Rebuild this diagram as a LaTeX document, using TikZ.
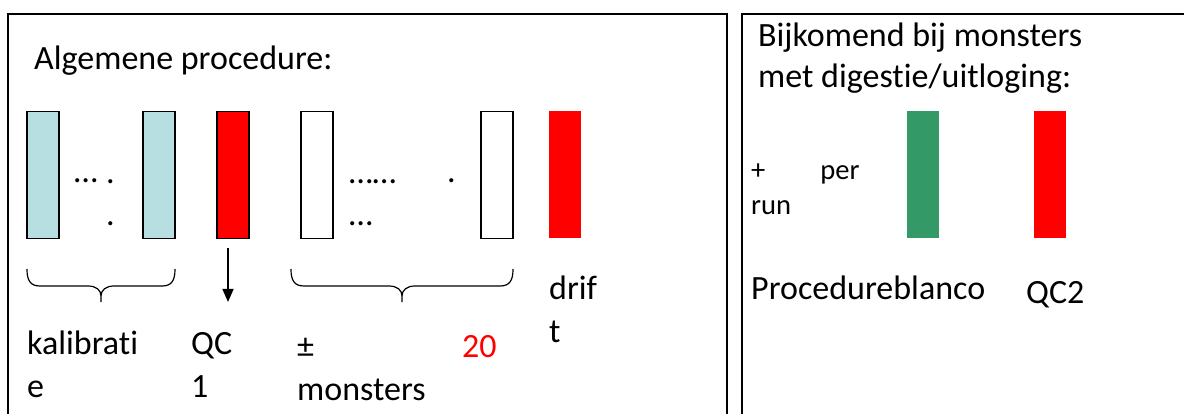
\documentclass[tikz,border=0pt]{standalone}
\usepackage{fontspec}
\setmainfont{Carlito}[Ligatures=NoCommon]
\usetikzlibrary{arrows.meta}
\definecolor{calblue}{RGB}{183,222,224}
\definecolor{blankgreen}{RGB}{51,153,102}

\begin{document}
\begin{tikzpicture}
      [%%%%%%%%%%%%%%%%%%%%%%%%%%%%%%
      x=1pt,y=-1pt,
      box/.style={rectangle,draw=black,line width=1.5pt,minimum width=32pt,minimum height=127pt,inner sep=0pt},
      bar/.style={rectangle,minimum width=32pt,minimum height=127pt,inner sep=0pt},
      txt/.style={anchor=base west,inner sep=0pt,align=left,font=\fontsize{34}{43}\selectfont},
      small/.style={anchor=base west,inner sep=0pt,align=left,font=\fontsize{28.6}{35}\selectfont},
      brc/.style={line width=1.2pt},
      arr/.style={-{Triangle[length=13pt,width=11pt]},line width=1.5pt},
      ]%%%%%%%%%%%%%%%%%%%%%%%%%%%%%%
      \useasboundingbox (0,0) rectangle (1184,414);
      \clip (0,0) rectangle (1184,414);

      % frames
      \draw[line width=2pt] (8,14) rectangle (727,440);
      \draw[line width=2pt] (742,14) rectangle (1200,440);

      % algemene procedure
      \node[txt] (title) at (34,70) {Algemene procedure:};

      \node[box,fill=calblue] (cal1) at (43,175) {};
      \node[box,fill=calblue] (cal2) at (159,175) {};
      \node[box,fill=red    ] (qc1)  at (233,175) {};
      \node[box,fill=white  ] (mon1) at (317,175) {};
      \node[box,fill=white  ] (mon2) at (497,175) {};
      \node[bar,fill=red    ] (drift) at (565,175) {};

      \node[txt] (caldots) at (74,183) {…};
      \node[txt] (caldot)  at (106,226) {.\\.};
      \node[txt] (mondots) at (349,226) {……\\…};
      \node[txt] (mondot)  at (447,183) {.};

      % accolades
      \foreach \l/\m/\r in {27/101/175, 291/402/513}
        \draw[brc] (\l,269) .. controls (\l,280) and (\l+3,286) .. (\l+13,286)
          -- (\m-13,286) .. controls (\m-5,286) and (\m,290) .. (\m,296) -- (\m,302)
          (\m,296) .. controls (\m,290) and (\m+5,286) .. (\m+13,286)
          -- (\r-13,286) .. controls (\r-3,286) and (\r,280) .. (\r,269);

      \coordinate (qctop) at (228,248);
      \coordinate (qctip) at (228,302);
      \draw[arr] (qctop) -- (qctip);

      \node[txt] (kallbl)   at (27,397)  {kalibrati\\e};
      \node[txt] (qc1lbl)   at (191,397) {QC\\1};
      \node[txt] (monlbl)   at (297,400) {±\\monsters};
      \node[txt,text=red] (twenty) at (462,357) {20};
      \node[txt] (driftlbl) at (549,342) {drif\\t};

      % bijkomend
      \node[txt,font=\fontsize{34}{41}\selectfont] (extra) at (758,88) {Bijkomend bij monsters\\met digestie/uitloging:};
      \node[small] (perrun) at (751,215) {+\hspace{55pt}per\\run};

      \node[bar,fill=blankgreen] (blank) at (923,175) {};
      \node[bar,fill=red       ] (qc2)   at (1050,175) {};

      \node[txt] (blanklbl) at (751,299) {Procedureblanco};
      \node[txt] (qc2lbl)   at (1026,303) {QC2};
    \end{tikzpicture}
\end{document}
